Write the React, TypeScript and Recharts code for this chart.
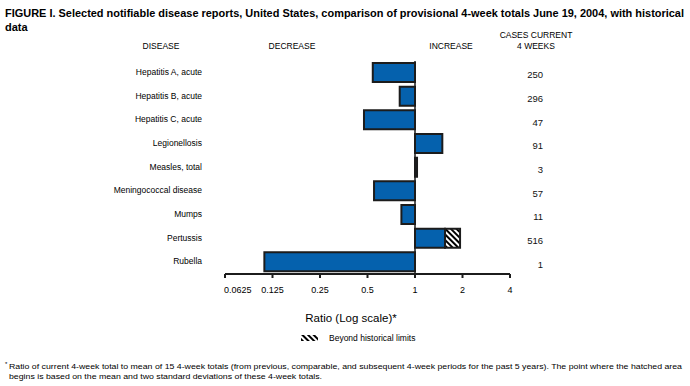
import React from "react"
import { BarChart, Bar, XAxis, YAxis, ReferenceLine } from "recharts"

const diseases = [
	"Hepatitis A, acute",
	"Hepatitis B, acute",
	"Hepatitis C, acute",
	"Legionellosis",
	"Measles, total",
	"Meningococcal disease",
	"Mumps",
	"Pertussis",
	"Rubella",
]
const ratios = [0.54, 0.8, 0.475, 1.49, 1.03, 0.55, 0.82, 1.55, 0.111]
const beyondLimits: (number | null)[] = [null, null, null, null, null, null, null, 1.93, null]
const cases = ["250", "296", "47", "91", "3", "57", "11", "516", "1"]
const ratioTicks = [0.0625, 0.125, 0.25, 0.5, 1, 2, 4]

const data = diseases.map((disease, i) => ({
	disease,
	cases: cases[i],
	ratio: [Math.min(1, ratios[i]), Math.max(1, ratios[i])],
	beyond: beyondLimits[i] != null ? [ratios[i], beyondLimits[i]] : null,
}))

const FONT = "'Liberation Sans', Arial, Helvetica, sans-serif"
const BLUE = "#0561ad"
const EDGE = "#1c1c1c"

const XTick = (props: any) => {
	const { x, y, payload, index } = props
	const first = index === 0
	return (
		<text
			x={first ? x - 1 : x}
			y={y}
			dy="0.71em"
			textAnchor={first ? "start" : "middle"}
			fontSize={9}
			fill="#000"
			fontFamily={FONT}>
			{String(payload.value)}
		</text>
	)
}

const DiseaseTick = (props: any) => {
	const { x, y, payload } = props
	return (
		<text x={x} y={y - 1} dy="0.355em" textAnchor="end" fontSize={8.5} fill="#000" fontFamily={FONT}>
			{payload.value}
		</text>
	)
}

const CasesTick = (props: any) => {
	const { x, y, payload } = props
	return (
		<text
			x={x + 33}
			y={y + 2}
			dy="0.355em"
			textAnchor="end"
			fontSize={9.5}
			fontWeight="normal"
			fill="#111"
			stroke="none"
			fontFamily={FONT}>
			{payload.value}
		</text>
	)
}

const App = () => {
	return (
		<div style={{ position: "absolute", left: 0, top: 0, width: 690, height: 386, background: "#fff" }}>
			<BarChart
				width={690}
				height={386}
				data={data}
				layout="vertical"
				barGap={-19}
				margin={{ top: 61, right: 140, left: 125, bottom: 82 }}
				style={{ fontFamily: FONT }}>
				<defs>
					<pattern id="hatch" width="4" height="4" patternUnits="userSpaceOnUse" patternTransform="rotate(-45)">
						<rect width="4" height="4" fill="#fff" />
						<rect width="2" height="4" fill="#000" />
					</pattern>
				</defs>
				<XAxis
					type="number"
					scale="log"
					domain={[0.0625, 4]}
					ticks={ratioTicks}
					allowDataOverflow
					height={30}
					tick={<XTick />}
					tickSize={4}
					tickMargin={9}
					axisLine={{ stroke: EDGE, strokeWidth: 2 }}
					tickLine={{ stroke: EDGE, strokeWidth: 2 }}
					interval={0}
				/>
				<YAxis
					yAxisId="left"
					type="category"
					dataKey="disease"
					width={100}
					axisLine={false}
					tickLine={false}
					tickSize={0}
					tickMargin={23}
					interval={0}
					tick={<DiseaseTick />}
				/>
				<YAxis
					yAxisId="right"
					orientation="right"
					type="category"
					dataKey="cases"
					width={40}
					axisLine={false}
					tickLine={false}
					tickSize={0}
					tickMargin={0}
					interval={0}
					tick={<CasesTick />}
				/>
				<ReferenceLine x={1} yAxisId="left" stroke={EDGE} strokeWidth={1.5} />
				<Bar
					yAxisId="left"
					dataKey="ratio"
					fill={BLUE}
					stroke={EDGE}
					strokeWidth={2}
					barSize={19}
					isAnimationActive={false}
				/>
				<Bar
					yAxisId="left"
					dataKey="beyond"
					fill="url(#hatch)"
					stroke={EDGE}
					strokeWidth={2}
					barSize={19}
					isAnimationActive={false}
				/>
			</BarChart>
			<svg
				width={690}
				height={386}
				style={{ position: "absolute", left: 0, top: 0, pointerEvents: "none" }}
				fontFamily={FONT}>
				<defs>
					<pattern id="hatchLegend" width="4" height="4" patternUnits="userSpaceOnUse" patternTransform="rotate(-45)">
						<rect width="4" height="4" fill="#fff" />
						<rect width="2" height="4" fill="#000" />
					</pattern>
				</defs>
				<text x={5} y={17} fontSize={11} fontWeight="bold" textLength={679} lengthAdjust="spacingAndGlyphs">
					FIGURE I. Selected notifiable disease reports, United States, comparison of provisional 4-week totals June 19, 2004, with historical
				</text>
				<text x={5} y={31} fontSize={11} fontWeight="bold">
					data
				</text>
				<text x={161} y={49} fontSize={8.5} textAnchor="middle">DISEASE</text>
				<text x={292} y={49} fontSize={8.5} textAnchor="middle">DECREASE</text>
				<text x={451} y={49} fontSize={8.5} textAnchor="middle">INCREASE</text>
				<text x={536} y={38} fontSize={8.5} textAnchor="middle">CASES CURRENT</text>
				<text x={536} y={49} fontSize={8.5} textAnchor="middle">4 WEEKS</text>
				<text x={351} y={322} fontSize={11.5} textAnchor="middle">Ratio (Log scale)*</text>
				<rect x={301} y={335} width={17} height={6} fill="url(#hatchLegend)" />
				<text x={329} y={341} fontSize={8.5}>Beyond historical limits</text>
				<text x={5} y={366} fontSize={6}>*</text>
				<text x={9} y={369} fontSize={8} textLength={673} lengthAdjust="spacingAndGlyphs">
					Ratio of current 4-week total to mean of 15 4-week totals (from previous, comparable, and subsequent 4-week periods for the past 5 years). The point where the hatched area
				</text>
				<text x={9} y={379} fontSize={8} textLength={313} lengthAdjust="spacingAndGlyphs">
					begins is based on the mean and two standard deviations of these 4-week totals.
				</text>
			</svg>
		</div>
	)
}

export default App
